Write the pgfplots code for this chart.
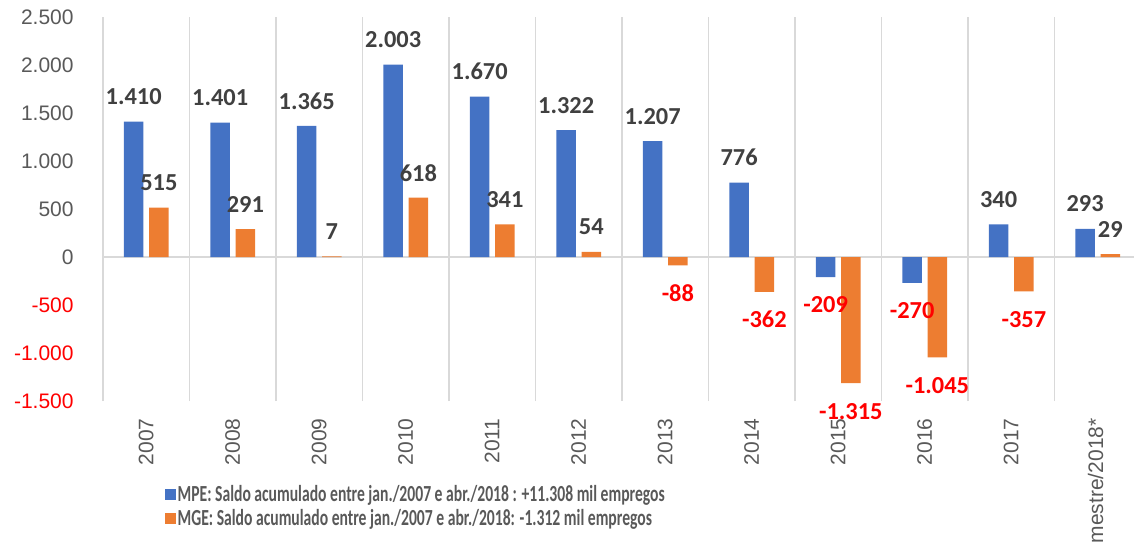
\documentclass[border=0pt]{standalone}
\usepackage{fontspec}
\setmainfont{Carlito}
\newfontfamily\tickfont{Liberation Sans}
\usepackage{graphicx}
\usepackage{pgfplots}
\pgfplotsset{compat=1.18}
\definecolor{mpe}{HTML}{4472C4}
\definecolor{mge}{HTML}{ED7D31}
\definecolor{gridc}{HTML}{D9D9D9}
\definecolor{tickc}{HTML}{595959}
\definecolor{labc}{HTML}{404040}
\definecolor{negc}{HTML}{FF0000}
\pgfplotsset{sqlegend/.style={legend image code/.code={\fill[##1, draw=none] (0pt,-2.7pt) rectangle (5.4pt,2.7pt);}}}
\begin{document}
\begin{tikzpicture}
\useasboundingbox (-51.5pt,-70.5pt) rectangle (515.5pt,200.5pt);
\clip (-51.5pt,-70.5pt) rectangle (515.5pt,200.5pt);
\begin{axis}[
  scale only axis, width=519pt, height=192pt,
  xmin=-0.5, xmax=11.5, ymin=-1500, ymax=2500,
  bar width=9.75pt,
  axis line style={draw=none},
  major tick length=0pt, minor tick length=0pt,
  xtick={0,...,11},
  xticklabels={2007,2008,2009,2010,2011,2012,2013,2014,2015,2016,2017,1º quadrimestre/2018*},
  minor xtick={-0.5,0.5,...,11.5},
  xminorgrids=true,
  minor grid style={gridc, line width=0.75pt},
  ytick={-1500,-1000,...,2500},
  yticklabels={\textcolor{negc}{-1.500},\textcolor{negc}{-1.000},\textcolor{negc}{-500},0,500,1.000,1.500,2.000,2.500},
  extra y ticks={0}, extra y tick labels={},
  extra y tick style={grid=major, major grid style={gridc, line width=0.75pt}},
  ticklabel style={font=\fontsize{10.5}{12}\tickfont, text=tickc, inner sep=0pt},
  xticklabel style={rotate=90, anchor=east},
  yticklabel style={anchor=east},
  xticklabel shift=8.5pt, yticklabel shift=14.5pt,
  point meta=explicit symbolic,
  nodes near coords,
  every node near coord/.append style={font=\fontsize{12.2}{14}\selectfont\bfseries, anchor=center, inner sep=0pt},
  legend style={draw=none, fill=none, inner sep=0pt, at={(axis description cs:0.0597,-0.2135)}, anchor=north west,
    font=\fontsize{11.5}{13}\selectfont\bfseries, text=tickc, row sep=1pt,
    nodes={inner sep=0.75pt}},
  legend cell align=left,
]
\addplot[ybar, bar shift=-6.3pt, fill=mpe, draw=none, sqlegend,
  every node near coord/.append style={text=labc, xshift=-6.3pt, yshift=12.5pt}]
  coordinates {(0,1410)[1.410] (1,1401)[1.401] (2,1365)[1.365] (3,2003)[2.003] (4,1670)[1.670]
    (5,1322)[1.322] (6,1207)[1.207] (7,776)[776] (10,340)[340] (11,293)[293]};
\addlegendentry{\scalebox{0.68}[1]{MPE: Saldo acumulado entre jan./2007 e abr./2018 : +11.308 mil empregos}}
\addplot[ybar, bar shift=6.3pt, fill=mge, draw=none, sqlegend,
  every node near coord/.append style={text=labc, xshift=6.3pt, yshift=12.5pt}]
  coordinates {(0,515)[515] (1,291)[291] (2,7)[7] (3,618)[618] (4,341)[341] (5,54)[54] (11,29)[29]};
\addlegendentry{\scalebox{0.68}[1]{MGE: Saldo acumulado entre jan./2007 e abr./2018: -1.312 mil empregos}}
\addplot[ybar, bar shift=-6.3pt, fill=mpe, draw=none, forget plot,
  every node near coord/.append style={text=negc, xshift=-6.3pt, yshift=-14pt}]
  coordinates {(8,-209)[-209] (9,-270)[-270]};
\addplot[ybar, bar shift=6.3pt, fill=mge, draw=none, forget plot,
  every node near coord/.append style={text=negc, xshift=6.3pt, yshift=-14pt}]
  coordinates {(6,-88)[-88] (7,-362)[-362] (8,-1315)[-1.315] (9,-1045)[-1.045] (10,-357)[-357]};
\end{axis}
\end{tikzpicture}
\end{document}
